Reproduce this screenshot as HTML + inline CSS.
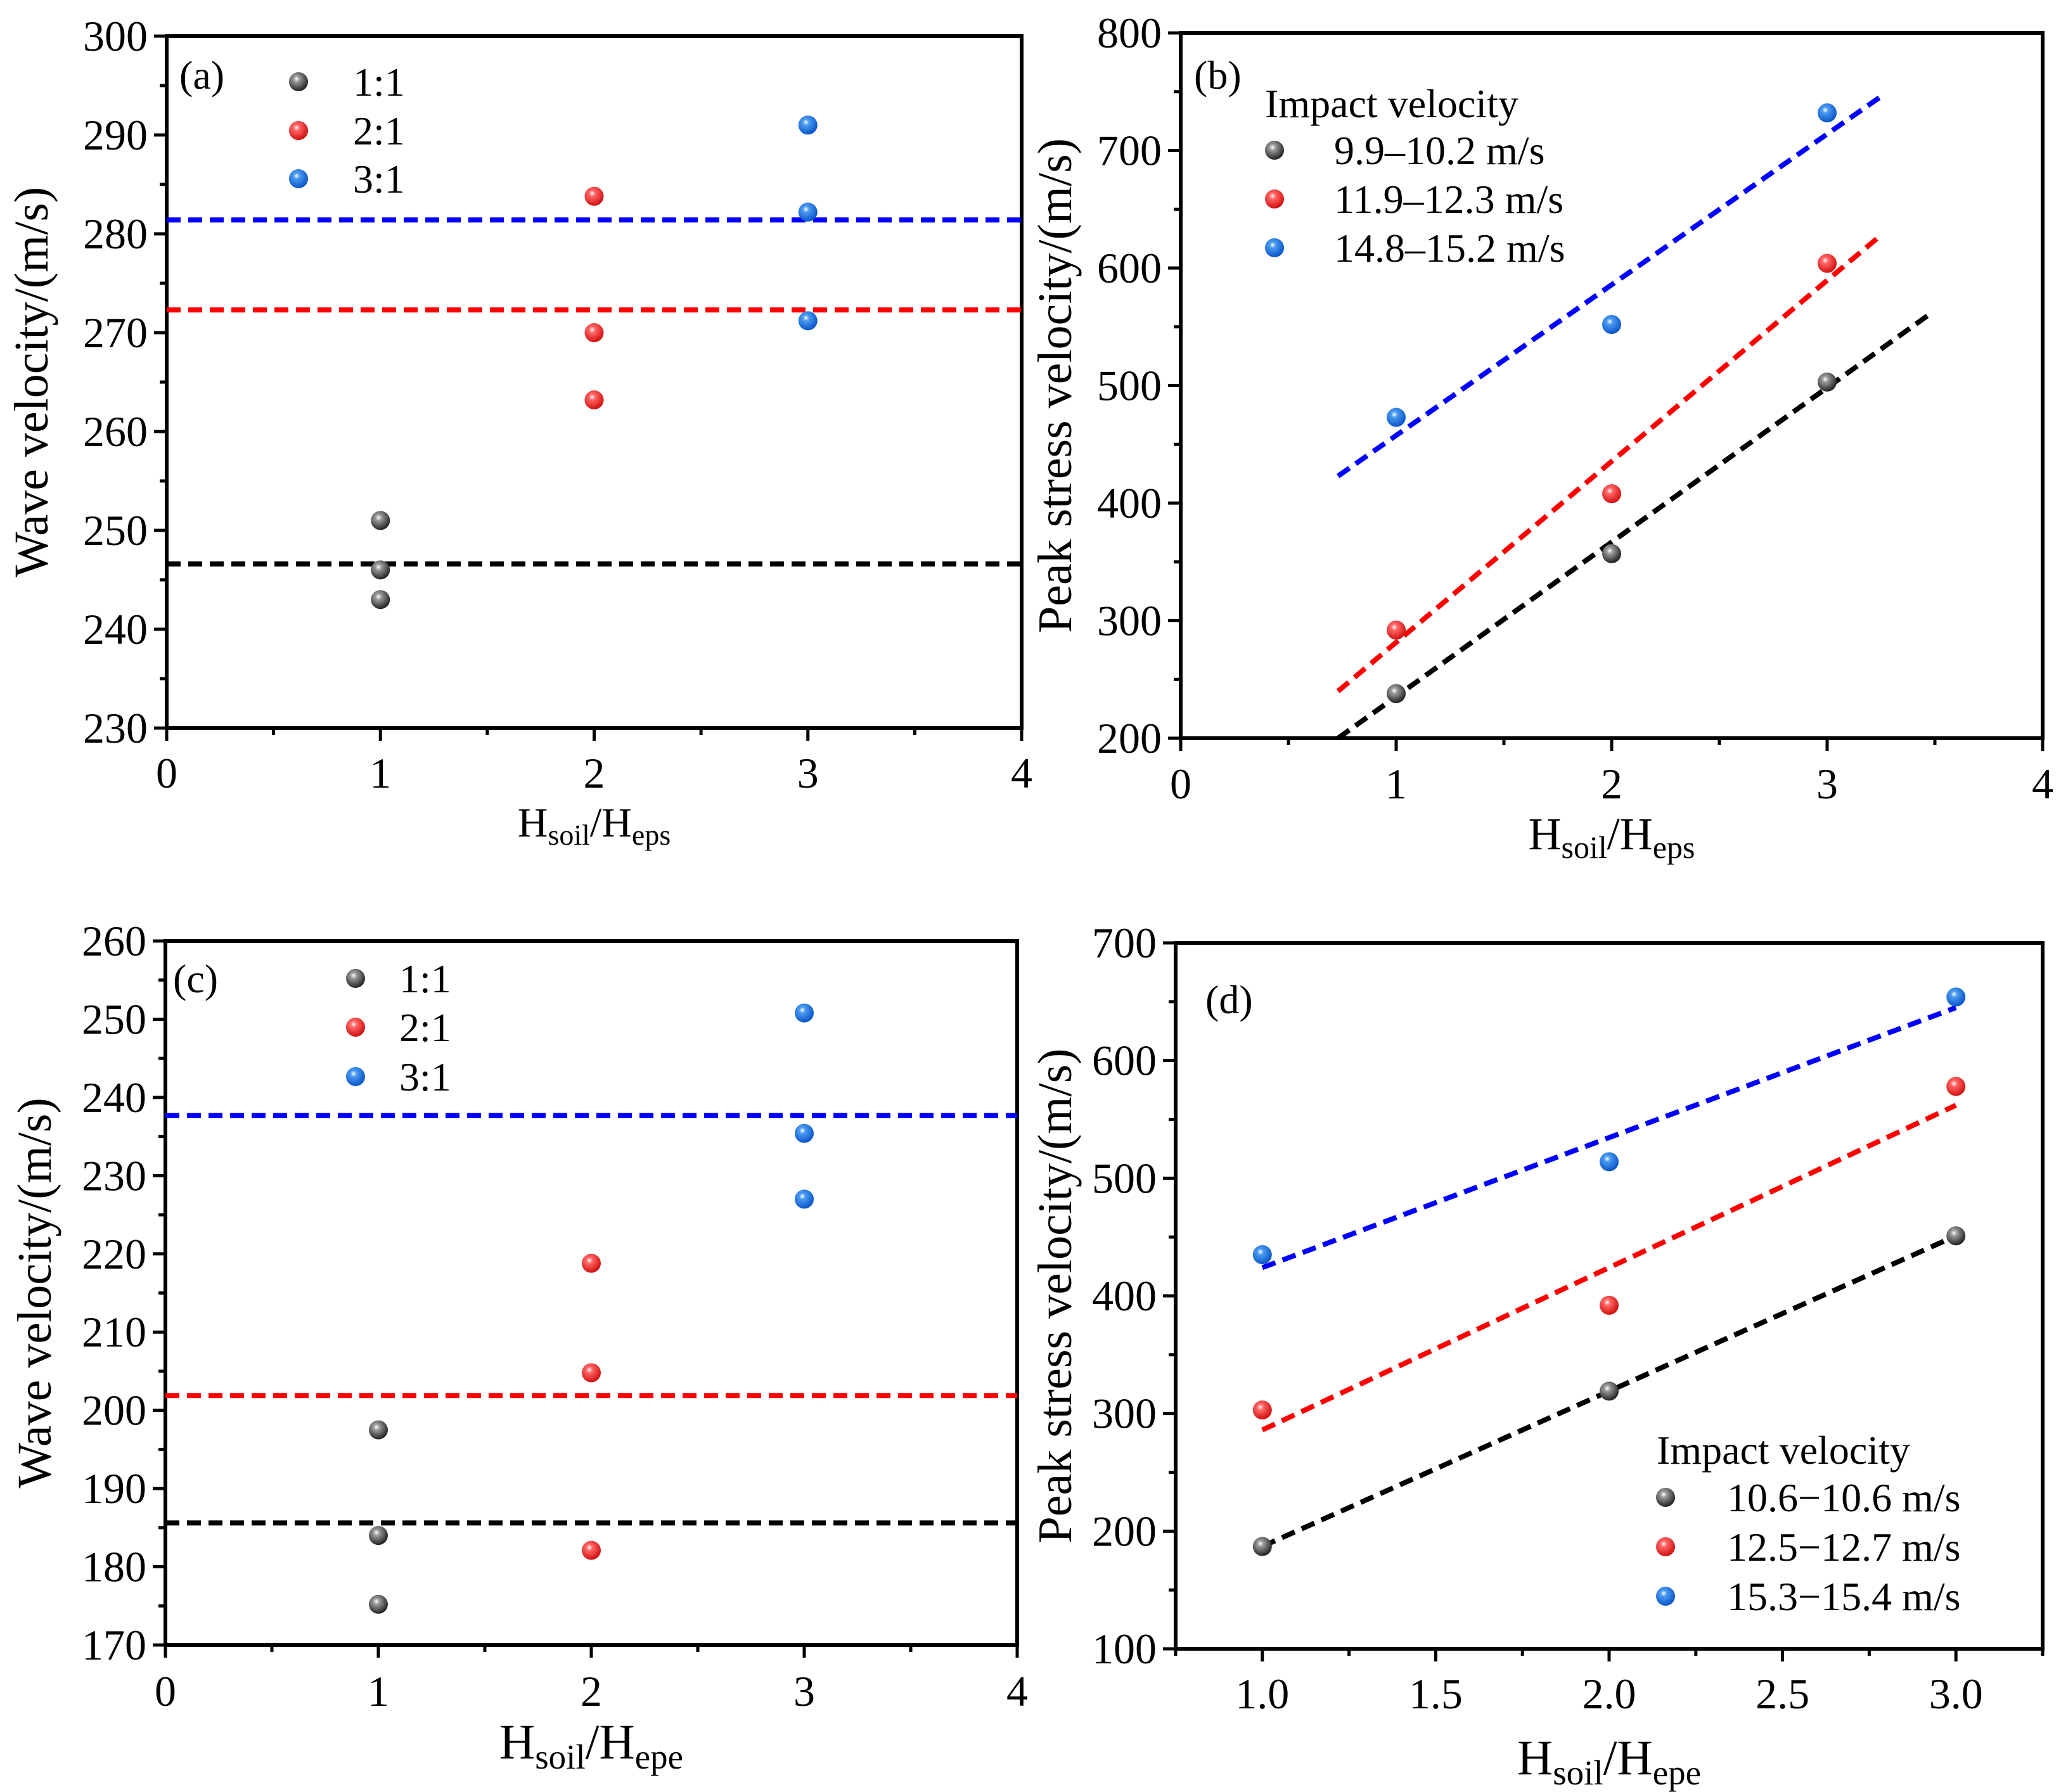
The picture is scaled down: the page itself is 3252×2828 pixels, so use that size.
<!DOCTYPE html>
<html><head><meta charset="utf-8"><style>
html,body{margin:0;padding:0;background:#fff;}
svg{display:block;}
text{font-family:"Liberation Serif",serif;fill:#000;}
</style></head><body>
<svg id="fig" width="3252" height="2828" viewBox="0 0 3252 2828">
<defs>
<radialGradient id="gk" cx="0.4" cy="0.35" r="0.65"><stop offset="0" stop-color="#fff"/><stop offset="0.25" stop-color="#999"/><stop offset="1" stop-color="#222"/></radialGradient>
<radialGradient id="gr" cx="0.4" cy="0.35" r="0.65"><stop offset="0" stop-color="#fff"/><stop offset="0.25" stop-color="#f66"/><stop offset="1" stop-color="#d01010"/></radialGradient>
<radialGradient id="gb" cx="0.4" cy="0.35" r="0.65"><stop offset="0" stop-color="#fff"/><stop offset="0.25" stop-color="#4a9af0"/><stop offset="1" stop-color="#0a55c8"/></radialGradient>
</defs>
</svg>
<script>
// Panel (a)
const aX = [1, 2, 3];
const aBlack = [[251, 246, 243]];
const aRed = [[283.8, 270, 263.2]];
const aBlue = [[291, 282.2, 271.2]];
const aMeans = [246.6, 272.3, 281.4];
// Panel (b)
const bX = [1, 2, 3];
const bBlack = [238, 357, 503];
const bRed = [292, 408, 604];
const bBlue = [473, 552, 732];
const bFitBlack = [[0.73, 200], [3.47, 560]];
const bFitRed = [[0.73, 240], [3.25, 628]];
const bFitBlue = [[0.73, 423], [3.25, 746]];
// Panel (c)
const cBlack = [197.5, 184, 175.2];
const cRed = [218.8, 204.8, 182.1];
const cBlue = [250.8, 235.4, 227];
const cMeans = [185.6, 201.9, 237.7];
// Panel (d)
const dX = [1, 2, 3];
const dBlack = [187, 319, 451];
const dRed = [303, 392, 578];
const dBlue = [435, 514, 654];
const dFitBlack = [[1, 187], [3, 451]];
const dFitRed = [[1, 286], [3, 562]];
const dFitBlue = [[1, 424], [3, 645]];
// tick labels
const abcXTicks = ["0", "1", "2", "3", "4"];
const aYTicks = ["230", "240", "250", "260", "270", "280", "290", "300"];
const bYTicks = ["200", "300", "400", "500", "600", "700", "800"];
const cYTicks = ["170", "180", "190", "200", "210", "220", "230", "240", "250", "260"];
const dXTicks = ["1.0", "1.5", "2.0", "2.5", "3.0"];
const dYTicks = ["100", "200", "300", "400", "500", "600", "700"];

const NS = "http://www.w3.org/2000/svg";
const svg = document.getElementById('fig');
const COLORS = {k: "#000", r: "#ff0000", b: "#0000ff"};
const GRAD = {k: "url(#gk)", r: "url(#gr)", b: "url(#gb)"};
function mk(tag, attrs, parent) {
  const e = document.createElementNS(NS, tag);
  for (const k in attrs) e.setAttribute(k, attrs[k]);
  (parent || svg).appendChild(e);
  return e;
}
function panel(cfg) {
  const g = mk('g', {});
  
  
  const sx = v => cfg.L + (v - cfg.x0) / (cfg.x1 - cfg.x0) * (cfg.R - cfg.L);
  const sy = v => cfg.B - (v - cfg.y0) / (cfg.y1 - cfg.y0) * (cfg.B - cfg.T);
  cfg.sx = sx; cfg.sy = sy; cfg.g = g;
  cfg.yt.forEach((lab, i) => {
    const v = parseFloat(lab), y = sy(v);
    mk('line', {x1: cfg.L - 20, x2: cfg.L, y1: y, y2: y, stroke: '#000', 'stroke-width': 5}, g);
    if (i < cfg.yt.length - 1) {
      const ym = sy(v + (parseFloat(cfg.yt[1]) - parseFloat(cfg.yt[0])) / 2);
      mk('line', {x1: cfg.L - 11, x2: cfg.L, y1: ym, y2: ym, stroke: '#000', 'stroke-width': 5}, g);
    }
    const t = mk('text', {x: cfg.L - 30, y: y + 23, 'font-size': 68, 'text-anchor': 'end'}, g);
    t.textContent = lab;
    
    
  });
  cfg.xt.forEach((lab, i) => {
    const v = parseFloat(lab), x = sx(v);
    mk('line', {x1: x, x2: x, y1: cfg.B, y2: cfg.B + 20, stroke: '#000', 'stroke-width': 5}, g);
    if (i < cfg.xt.length - 1) {
      const xm = sx(v + (parseFloat(cfg.xt[1]) - parseFloat(cfg.xt[0])) / 2);
      mk('line', {x1: xm, x2: xm, y1: cfg.B, y2: cfg.B + 11, stroke: '#000', 'stroke-width': 5}, g);
    }
    const t = mk('text', {x: x, y: cfg.xlabY, 'font-size': 68, 'text-anchor': 'middle'}, g);
    t.textContent = lab;
    
    
  });
  if (cfg.extraXTicks) cfg.extraXTicks.forEach(v => {
    const x = sx(v);
    mk('line', {x1: x, x2: x, y1: cfg.B, y2: cfg.B + 11, stroke: '#000', 'stroke-width': 5}, g);
  });
  const fr = mk('rect', {x: cfg.L, y: cfg.T, width: cfg.R - cfg.L, height: cfg.B - cfg.T, fill: 'none', stroke: '#000', 'stroke-width': 6}, g);
  
  
  const yt = mk('text', {x: 0, y: 0, 'font-size': 76, 'text-anchor': 'middle', transform: `translate(${cfg.ytX},${(cfg.T + cfg.B) / 2}) rotate(-90)`}, g);
  yt.textContent = cfg.ytitle;
  
  
  const fs = cfg.xtFs, ss = Math.round(fs * 0.7), dd = Math.round(fs * 0.2);
  const xt = mk('text', {x: (cfg.L + cfg.R) / 2, y: cfg.xtY, 'font-size': fs, 'text-anchor': 'middle'}, g);
  xt.innerHTML = `H<tspan font-size="${ss}" dy="${dd}">soil</tspan><tspan dy="-${dd}">/H</tspan><tspan font-size="${ss}" dy="${dd}">${cfg.sub}</tspan>`;
  
  
  const pl = mk('text', {x: cfg.lab[0], y: cfg.lab[1] + 22, 'font-size': 64}, g);
  pl.textContent = '(' + cfg.id + ')';
  
  
  return cfg;
}
function dash(cfg, x1, y1, x2, y2, c, name) {
  const l = mk('line', {x1: cfg.sx(x1), y1: cfg.sy(y1), x2: cfg.sx(x2), y2: cfg.sy(y2), stroke: COLORS[c], 'stroke-width': 8, 'stroke-dasharray': '22 12'}, cfg.g);
  
  
}
function dot(cfg, x, v, c, name) {
  const e = mk('circle', {cx: cfg.sx(x), cy: cfg.sy(v), r: 15, fill: GRAD[c]}, cfg.g);
  
  
}
function legend(cfg, items, mx, tx, ys, title) {
  if (title) {
    const t = mk('text', {x: title[0], y: title[1] + 22, 'font-size': 64}, cfg.g);
    t.textContent = title[2];
    
    
  }
  items.forEach((it, i) => {
    const c = mk('circle', {cx: mx, cy: ys[i], r: 15, fill: GRAD[it[0]]}, cfg.g);
    
    
    const t = mk('text', {x: tx, y: ys[i] + 22, 'font-size': 64}, cfg.g);
    t.textContent = it[1];
    
    
  });
}

const A = panel({id: 'a', L: 263, R: 1612, T: 57, B: 1149, x0: 0, x1: 4, y0: 230, y1: 300, xt: abcXTicks, yt: aYTicks, xlabY: 1243, ytX: 75, xtY: 1320, xtFs: 66, ytitle: 'Wave velocity/(m/s)', sub: 'eps', lab: [283, 118]});
dash(A, 0, aMeans[0], 4, aMeans[0], 'k', 'mean-line-1-1');
dash(A, 0, aMeans[1], 4, aMeans[1], 'r', 'mean-line-2-1');
dash(A, 0, aMeans[2], 4, aMeans[2], 'b', 'mean-line-3-1');
aBlack[0].forEach(v => dot(A, aX[0], v, 'k', 'point-1-1'));
aRed[0].forEach(v => dot(A, aX[1], v, 'r', 'point-2-1'));
aBlue[0].forEach(v => dot(A, aX[2], v, 'b', 'point-3-1'));
legend(A, [['k', '1:1'], ['r', '2:1'], ['b', '3:1']], 471, 557, [129, 206, 282]);

const Bp = panel({id: 'b', L: 1863, R: 3223, T: 52, B: 1165, x0: 0, x1: 4, y0: 200, y1: 800, xt: abcXTicks, yt: bYTicks, xlabY: 1260, ytX: 1690, xtY: 1340, xtFs: 72, ytitle: 'Peak stress velocity/(m/s)', sub: 'eps', lab: [1884, 118]});
dash(Bp, bFitBlack[0][0], bFitBlack[0][1], bFitBlack[1][0], bFitBlack[1][1], 'k', 'fit-line-low');
dash(Bp, bFitRed[0][0], bFitRed[0][1], bFitRed[1][0], bFitRed[1][1], 'r', 'fit-line-mid');
dash(Bp, bFitBlue[0][0], bFitBlue[0][1], bFitBlue[1][0], bFitBlue[1][1], 'b', 'fit-line-high');
bX.forEach((x, i) => { dot(Bp, x, bBlack[i], 'k', 'point-low'); dot(Bp, x, bRed[i], 'r', 'point-mid'); dot(Bp, x, bBlue[i], 'b', 'point-high'); });
legend(Bp, [['k', '9.9–10.2 m/s'], ['r', '11.9–12.3 m/s'], ['b', '14.8–15.2 m/s']], 2011, 2105, [237, 314, 391], [1996, 163, 'Impact velocity']);

const C = panel({id: 'c', L: 261, R: 1605, T: 1485, B: 2596, x0: 0, x1: 4, y0: 170, y1: 260, xt: abcXTicks, yt: cYTicks, xlabY: 2692, ytX: 80, xtY: 2775, xtFs: 78, ytitle: 'Wave velocity/(m/s)', sub: 'epe', lab: [273, 1544]});
dash(C, 0, cMeans[0], 4, cMeans[0], 'k', 'mean-line-1-1');
dash(C, 0, cMeans[1], 4, cMeans[1], 'r', 'mean-line-2-1');
dash(C, 0, cMeans[2], 4, cMeans[2], 'b', 'mean-line-3-1');
cBlack.forEach(v => dot(C, 1, v, 'k', 'point-1-1'));
cRed.forEach(v => dot(C, 2, v, 'r', 'point-2-1'));
cBlue.forEach(v => dot(C, 3, v, 'b', 'point-3-1'));
legend(C, [['k', '1:1'], ['r', '2:1'], ['b', '3:1']], 561, 630, [1544, 1621, 1699]);

const D = panel({id: 'd', L: 1855, R: 3223, T: 1488, B: 2602, x0: 0.75, x1: 3.25, y0: 100, y1: 700, xt: dXTicks, yt: dYTicks, xlabY: 2696, ytX: 1690, xtY: 2800, xtFs: 78, ytitle: 'Peak stress velocity/(m/s)', sub: 'epe', lab: [1902, 1577], extraXTicks: [0.75, 3.25]});
dash(D, dFitBlack[0][0], dFitBlack[0][1], dFitBlack[1][0], dFitBlack[1][1], 'k', 'fit-line-low');
dash(D, dFitRed[0][0], dFitRed[0][1], dFitRed[1][0], dFitRed[1][1], 'r', 'fit-line-mid');
dash(D, dFitBlue[0][0], dFitBlue[0][1], dFitBlue[1][0], dFitBlue[1][1], 'b', 'fit-line-high');
dX.forEach((x, i) => { dot(D, x, dBlack[i], 'k', 'point-low'); dot(D, x, dRed[i], 'r', 'point-mid'); dot(D, x, dBlue[i], 'b', 'point-high'); });
legend(D, [['k', '10.6−10.6 m/s'], ['r', '12.5−12.7 m/s'], ['b', '15.3−15.4 m/s']], 2628, 2725, [2363, 2441, 2519], [2614, 2288, 'Impact velocity']);
</script>
</body></html>
